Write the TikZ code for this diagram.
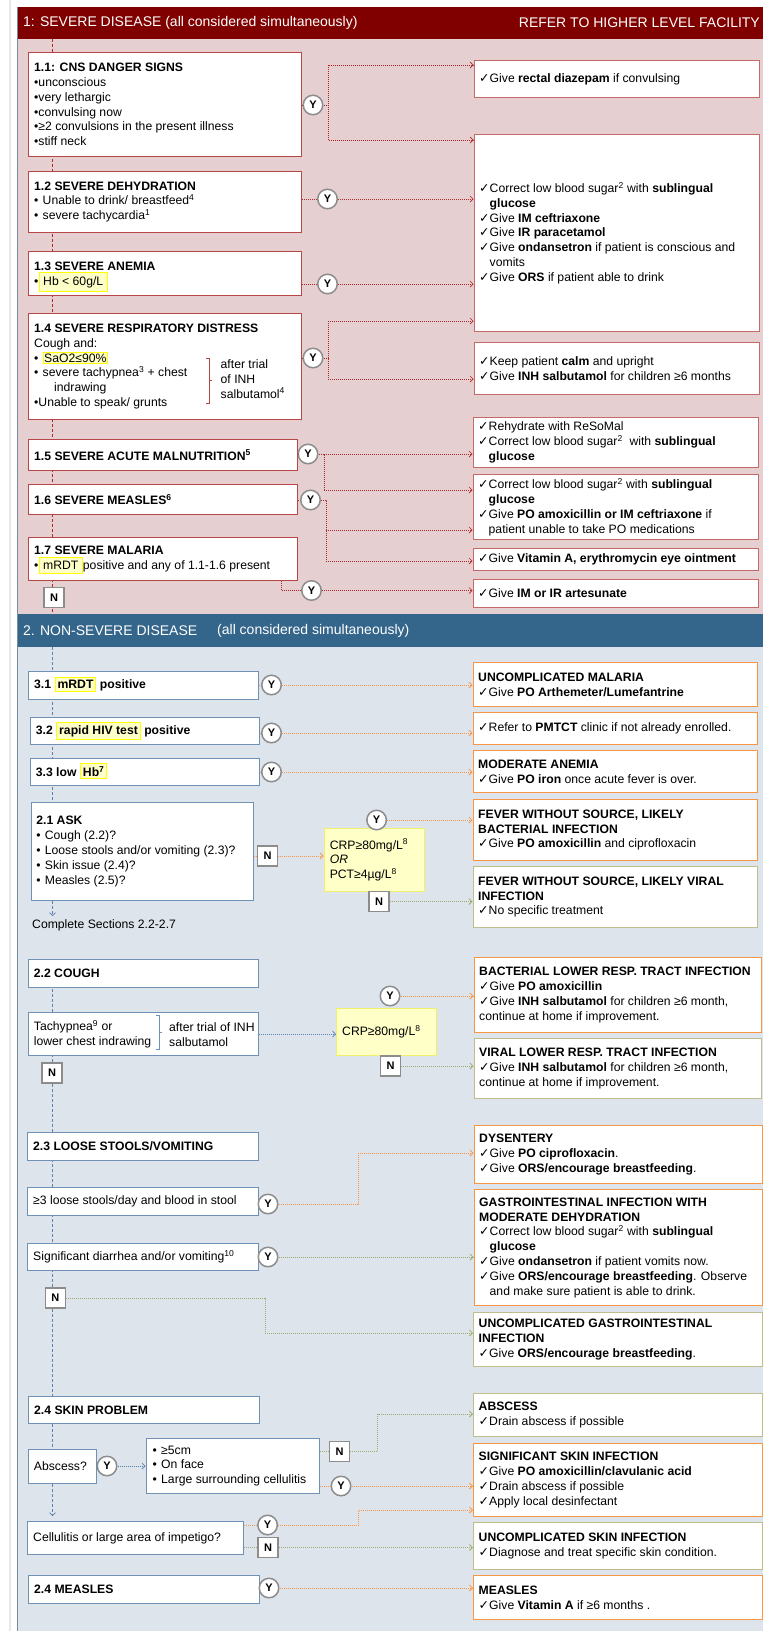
\documentclass[tikz,border=0pt]{standalone}
\usepackage{fontspec}
\setmainfont{Liberation Sans}
\newfontfamily\symfont{DejaVu Sans}
\usetikzlibrary{arrows.meta}

\definecolor{sevhead}{RGB}{128,0,0}
\definecolor{sevbg}{RGB}{230,207,209}
\definecolor{sevline}{RGB}{185,70,70}
\definecolor{sevrline}{RGB}{200,105,105}
\definecolor{sevconn}{RGB}{175,40,40}
\definecolor{nshead}{RGB}{52,101,138}
\definecolor{nsbg}{RGB}{221,228,235}
\definecolor{nsline}{RGB}{110,145,180}
\definecolor{orline}{RGB}{247,150,70}
\definecolor{olline}{RGB}{190,190,140}
\definecolor{olconn}{RGB}{160,170,110}
\definecolor{bconn}{RGB}{90,130,175}
\definecolor{hly}{RGB}{255,255,0}
\definecolor{hlf}{RGB}{255,255,200}
\definecolor{crpf}{RGB}{255,255,200}
\definecolor{crpd}{RGB}{240,240,110}
\definecolor{edge}{RGB}{120,140,160}
\definecolor{ring}{RGB}{140,140,140}

\newcommand\fs{\fontsize{12.2}{14.8}\selectfont}
\newcommand\ck{\makebox[10.5pt][l]{\symfont\fontsize{12.5}{10}\selectfont ✓}}
\newcommand\ind{\hspace*{10.5pt}}
\newcommand\bul{\makebox[8.5pt][l]{•}}
\newcommand\hl[2][2]{\smash{\setlength{\fboxsep}{#1pt}\setlength{\fboxrule}{1pt}\fcolorbox{hly}{hlf}{#2}}}
% box: [pad]{name}{x1}{y1}{x2}{y2}{style}{text}
\newcommand\bx[8][6]{%
  \node[#7, minimum width={#5pt-#3pt}, minimum height={#6pt-#4pt}, anchor=north west, inner sep=0pt] (#2) at (#3,#4) {};
  \node[txt, anchor=west] (#2t) at ([xshift=#1pt]#2.west) {#8};}

\begin{document}
\begin{tikzpicture}[x=1pt,y=-1pt,
  txt/.style={align=left, inner sep=0pt, font=\fs},
  hdr/.style={text=white, inner sep=0pt, font=\fontsize{14}{16}\selectfont},
  sbox/.style={rectangle, draw=sevline, fill=white, line width=1pt},
  srbox/.style={rectangle, draw=sevrline, fill=white, line width=1.2pt},
  nbx/.style={rectangle, draw=nsline, fill=white, line width=1pt},
  orbx/.style={rectangle, draw=orline, fill=white, line width=1.2pt},
  olbx/.style={rectangle, draw=olline, fill=white, line width=1.2pt},
  crpbox/.style={rectangle, draw=crpd, fill=crpf, line width=1pt},
  yc/.style={circle, draw=ring, fill=white, line width=1.5pt, minimum size=19.5pt, inner sep=0pt, font=\bfseries\fontsize{11}{11}\selectfont},
  nbox/.style={rectangle, draw=ring, fill=white, line width=1.5pt, minimum width=20pt, minimum height=20pt, inner sep=0pt, font=\bfseries\fontsize{11}{11}\selectfont},
  tip/.style={-{Straight Barb[length=3pt,width=6pt]}},
  sc/.style={draw=sevconn, line width=0.7pt, dash pattern=on 1pt off 1pt},
  sca/.style={sc, tip},
  oc/.style={draw=orline, line width=0.8pt, dash pattern=on 1pt off 1pt},
  oca/.style={oc, tip},
  gc/.style={draw=olconn, line width=0.8pt, dash pattern=on 1pt off 1pt},
  gca/.style={gc, tip},
  bc/.style={draw=bconn, line width=0.7pt, dash pattern=on 1pt off 1pt},
  bca/.style={bc, tip},
  sv/.style={draw=sevconn, line width=0.7pt, dash pattern=on 3pt off 2pt},
  bv/.style={draw=bconn, line width=0.7pt, dash pattern=on 3pt off 2pt},
  bva/.style={bv, tip}]
\useasboundingbox (0,0) rectangle (763,1631);
\fill[white] (0,0) rectangle (763,1631);
\draw[line width=2pt, color=gray!18] (9.5,0) -- (9.5,1631);
\fill[sevhead] (17,7) rectangle (763,39);
\fill[sevbg] (17,39) rectangle (763,614);
\fill[nshead] (17,614) rectangle (763,647);
\fill[nsbg] (17,647) rectangle (763,1631);
\draw[edge, line width=1pt] (17,7) -- (17,1631);

\node[hdr, anchor=west] (h1) at (23,23) {1: SEVERE DISEASE (all considered simultaneously)};
\node[hdr, anchor=east] (h1r) at (760,23) {REFER TO HIGHER LEVEL FACILITY};
\node[hdr, anchor=west] (h2) at (23,631) {2. NON-SEVERE DISEASE};
\node[hdr, anchor=west] (h2b) at (217,631) {(all considered simultaneously)};

% vertical spine lines
\coordinate (v1top) at (52.5,39); \coordinate (v1bot) at (52.5,614);
\draw[sv] (v1top) -- (v1bot);
\coordinate (v2top) at (52.5,647); \coordinate (v2a) at (52.5,900); \coordinate (v2b) at (52.5,916);
\draw[bv] (v2top) -- (v2a);
\coordinate (v3top) at (52.5,959); \coordinate (v3bot) at (52.5,1500);
\draw[bv] (v3top) -- (v3bot);

% ---------- Section 1 left ----------
\bx{b11}{28}{52}{301}{156}{sbox}{\textbf{1.1: CNS DANGER SIGNS}\\•unconscious\\•very lethargic\\•convulsing now\\•≥2 convulsions in the present illness\\•stiff neck}
\bx{b12}{28}{171}{301}{232}{sbox}{\textbf{1.2 SEVERE DEHYDRATION}\\\bul Unable to drink/ breastfeed\textsuperscript{4}\\\bul severe tachycardia\textsuperscript{1}}
\bx{b13}{28}{251}{301}{295}{sbox}{\textbf{1.3 SEVERE ANEMIA}\\\makebox[4.5pt][l]{•}\hl[3.5]{Hb < 60g/L}}
\bx{b14}{28}{313}{301}{419}{sbox}{\textbf{1.4 SEVERE RESPIRATORY DISTRESS}\\Cough and:\\\bul\hl[0.5]{SaO2≤90\%}\\\bul severe tachypnea\textsuperscript{3} + chest\\\hspace*{20pt}indrawing\\•Unable to speak/ grunts}
\node[txt, anchor=west] (b14s) at (220.5,379) {after trial\\of INH\\salbutamol\textsuperscript{4}};
\draw[sevline, line width=0.8pt] (206,358) -- (209,358) -- (209,403) -- (206,403);
\draw[sevline, line width=0.8pt] (209,380.5) -- (211.5,380.5);
\bx{b15}{28}{439}{297}{470}{sbox}{\textbf{1.5 SEVERE ACUTE MALNUTRITION\textsuperscript{5}}}
\bx{b16}{28}{484}{297}{514}{sbox}{\textbf{1.6 SEVERE MEASLES\textsuperscript{6}}}
\bx{b17}{28}{537}{297}{580}{sbox}{\textbf{1.7 SEVERE MALARIA}\\\makebox[4.5pt][l]{•}\hl[3.5]{mRDT}positive and any of 1.1-1.6 present}
\node[nbox] (n1) at (54,597.5) {N};

% ---------- Section 1 right ----------
\bx[5.5]{r11}{473.5}{60}{759}{97}{srbox}{\ck Give \textbf{rectal diazepam} if convulsing}
\bx[5.5]{r12}{473.5}{134}{759}{331}{srbox}{\ck Correct low blood sugar\textsuperscript{2} with \textbf{sublingual}\\\ind\textbf{glucose}\\\ck Give \textbf{IM ceftriaxone}\\\ck Give \textbf{IR paracetamol}\\\ck Give \textbf{ondansetron} if patient is conscious and\\\ind vomits\\\ck Give \textbf{ORS} if patient able to drink}
\bx[5.5]{r13}{473.5}{342}{759}{394}{srbox}{\ck Keep patient \textbf{calm} and upright\\\ck Give \textbf{INH salbutamol} for children ≥6 months}
\bx[5.5]{r14}{472.5}{417}{757.5}{467}{srbox}{\ck Rehydrate with ReSoMal\\\ck Correct low blood sugar\textsuperscript{2}\ \ with \textbf{sublingual}\\\ind\textbf{glucose}}
\bx[5.5]{r15}{472.5}{474}{757.5}{539}{srbox}{\ck Correct low blood sugar\textsuperscript{2} with \textbf{sublingual}\\\ind\textbf{glucose}\\\ck Give \textbf{PO amoxicillin or IM ceftriaxone} if\\\ind patient unable to take PO medications}
\bx[5.5]{r16}{472.5}{548}{757.5}{570}{srbox}{\ck Give \textbf{Vitamin A, erythromycin eye ointment}}
\bx[5.5]{r17}{472.5}{579}{757.5}{607}{srbox}{\ck Give \textbf{IM or IR artesunate}}

\node[yc] (y11) at (313,105) {Y};
\node[yc] (y12) at (327.5,199) {Y};
\node[yc] (y13) at (327.5,284) {Y};
\node[yc] (y14) at (313,358) {Y};
\node[yc] (y15) at (308,454) {Y};
\node[yc] (y16) at (310.5,500) {Y};
\node[yc] (y17) at (311.5,590.5) {Y};

% Section 1 connectors
\coordinate (k1) at (328.5,105); \coordinate (k1a) at (328.5,65); \coordinate (k1b) at (328.5,140);
\draw[sc] (b11.east |- y11) -- (y11);
\draw[sc] (y11) -- (k1); \draw[sc] (k1a) -- (k1b);
\draw[sca] (k1a) -- (k1a -| r11.west); \draw[sca] (k1b) -- (k1b -| r12.west);
\draw[sc] (b12.east |- y12) -- (y12); \draw[sca] (y12) -- (y12 -| r12.west);
\draw[sc] (b13.east |- y13) -- (y13); \draw[sca] (y13) -- (y13 -| r12.west);
\coordinate (k4) at (328,358); \coordinate (k4a) at (328,321); \coordinate (k4b) at (328,379);
\draw[sc] (b14.east |- y14) -- (y14); \draw[sc] (y14) -- (k4); \draw[sc] (k4a) -- (k4b);
\draw[sca] (k4a) -- (k4a -| r12.west); \draw[sca] (k4b) -- (k4b -| r13.west);
\coordinate (k5a) at (324,454); \coordinate (k5b) at (324,490);
\draw[sc] (b15.east |- y15) -- (y15); \draw[sc] (y15) -- (k5a) -- (k5b);
\draw[sca] (k5a) -- (k5a -| r14.west); \draw[sca] (k5b) -- (k5b -| r15.west);
\coordinate (k6) at (326,500); \coordinate (k6a) at (326,530); \coordinate (k6b) at (326,561);
\draw[sc] (b16.east |- y16) -- (y16); \draw[sc] (y16) -- (k6) -- (k6b);
\draw[sca] (k6a) -- (k6a -| r15.west); \draw[sca] (k6b) -- (k6b -| r16.west);
\coordinate (k17) at (281,590.5);
\draw[sc] (b17.south -| k17) -- (k17) -- (y17); \draw[sca] (y17) -- (y17 -| r17.west);

% ---------- Section 2 left ----------
\bx{c31}{28}{671}{258}{699}{nbx}{\textbf{3.1 \hl{mRDT} positive}}
\bx{c32}{29.7}{717}{259}{744}{nbx}{\textbf{3.2 \hl{rapid HIV test} positive}}
\bx{c33}{29.7}{758}{259}{785}{nbx}{\textbf{3.3 low \hl{Hb\textsuperscript{7}}}}
\bx[5.5]{c21}{30.7}{802}{253}{900}{nbx}{\textbf{2.1 ASK}\\\bul Cough (2.2)?\\\bul Loose stools and/or vomiting (2.3)?\\\bul Skin issue (2.4)?\\\bul Measles (2.5)?}
\draw[bva] (c21.south -| v2a) -- (v2b);
\node[txt, anchor=west] (compl) at (32,925) {Complete Sections 2.2-2.7};
\bx{c22}{27.7}{959}{258}{987}{nbx}{\textbf{2.2 COUGH}}
\bx{ctach}{27.7}{1012}{258}{1055}{nbx}{Tachypnea\textsuperscript{9} or\\lower chest indrawing}
\node[txt, anchor=west] (ctachs) at (169,1035) {after trial of INH\\salbutamol};
\draw[nsline, line width=0.8pt] (156,1015) -- (159,1015) -- (159,1049) -- (156,1049);
\draw[nsline, line width=0.8pt] (159,1032) -- (161.5,1032);
\node[nbox] (n22) at (52,1073) {N};
\bx{c23}{27}{1132}{258}{1160}{nbx}{\textbf{2.3 LOOSE STOOLS/VOMITING}}
\bx{c23a}{27}{1187}{258}{1215}{nbx}{≥3 loose stools/day and blood in stool}
\bx{c23b}{27}{1243}{258}{1270}{nbx}{Significant diarrhea and/or vomiting\textsuperscript{10}}
\node[nbox] (n23) at (55.3,1298) {N};
\bx{c24}{28}{1396}{259}{1423}{nbx}{\textbf{2.4 SKIN PROBLEM}}
\bx{cabs}{27.7}{1449}{96}{1483}{nbx}{Abscess?}
\bx[7]{ccrit}{145.5}{1438}{319}{1493}{nbx}{\bul ≥5cm\\\bul On face\\\bul Large surrounding cellulitis}
\bx{ccell}{27}{1521}{243}{1554}{nbx}{Cellulitis or large area of impetigo?}
\draw[bva, shorten >=5pt] (cabs.south -| v3bot) -- (ccell.north -| v3bot);
\bx{c25}{28}{1575}{259}{1603}{nbx}{\textbf{2.4 MEASLES}}

% ---------- Section 2 right ----------
\bx[5.5]{d31}{472.5}{662}{757}{706}{orbx}{\textbf{UNCOMPLICATED MALARIA}\\\ck Give \textbf{PO Arthemeter/Lumefantrine}}
\bx[5.5]{d32}{472.5}{712}{757}{744}{orbx}{\ck Refer to \textbf{PMTCT} clinic if not already enrolled.}
\bx[5.5]{d33}{472.5}{750}{757}{792}{orbx}{\textbf{MODERATE ANEMIA}\\\ck Give \textbf{PO iron} once acute fever is over.}
\bx[5.5]{d21a}{472.5}{799}{757}{860}{orbx}{\textbf{FEVER WITHOUT SOURCE, LIKELY}\\\textbf{BACTERIAL INFECTION}\\\ck Give \textbf{PO amoxicillin} and ciprofloxacin}
\bx[5.5]{d21b}{472.5}{866}{757}{927}{olbx}{\textbf{FEVER WITHOUT SOURCE, LIKELY VIRAL}\\\textbf{INFECTION}\\\ck No specific treatment}
\bx[5.5]{d22a}{473.5}{957}{760.5}{1032}{orbx}{\textbf{BACTERIAL LOWER RESP. TRACT INFECTION}\\\ck Give \textbf{PO amoxicillin}\\\ck Give \textbf{INH salbutamol} for children ≥6 month,\\continue at home if improvement.}
\bx[5.5]{d22b}{473.5}{1038}{760.5}{1098}{olbx}{\textbf{VIRAL LOWER RESP. TRACT INFECTION}\\\ck Give \textbf{INH salbutamol} for children ≥6 month,\\continue at home if improvement.}
\bx[5.5]{d23a}{473.5}{1125}{761.5}{1183}{orbx}{\textbf{DYSENTERY}\\\ck Give \textbf{PO ciprofloxacin}.\\\ck Give \textbf{ORS/encourage breastfeeding}.}
\bx[5.5]{d23b}{473.5}{1189}{761.5}{1305}{orbx}{\textbf{GASTROINTESTINAL INFECTION WITH}\\\textbf{MODERATE DEHYDRATION}\\\ck Correct low blood sugar\textsuperscript{2} with \textbf{sublingual}\\\ind\textbf{glucose}\\\ck Give \textbf{ondansetron} if patient vomits now.\\\ck Give \textbf{ORS/encourage breastfeeding}. Observe\\\ind and make sure patient is able to drink.}
\bx[5.5]{d23c}{473}{1312}{761.5}{1366}{olbx}{\textbf{UNCOMPLICATED GASTROINTESTINAL}\\\textbf{INFECTION}\\\ck Give \textbf{ORS/encourage breastfeeding}.}
\bx[5.5]{d24a}{473}{1393}{761.5}{1436}{olbx}{\textbf{ABSCESS}\\\ck Drain abscess if possible}
\bx[5.5]{d24b}{473}{1443}{761.5}{1516}{orbx}{\textbf{SIGNIFICANT SKIN INFECTION}\\\ck Give \textbf{PO amoxicillin/clavulanic acid}\\\ck Drain abscess if possible\\\ck Apply local desinfectant}
\bx[5.5]{d24c}{473}{1522}{761.5}{1569}{olbx}{\textbf{UNCOMPLICATED SKIN INFECTION}\\\ck Diagnose and treat specific skin condition.}
\bx[5.5]{d25}{473}{1575}{761.5}{1619}{orbx}{\textbf{MEASLES}\\\ck Give \textbf{Vitamin A} if ≥6 months .}

% CRP boxes
\bx{crp1}{323.6}{828}{424}{891}{crpbox}{CRP≥80mg/L\textsuperscript{8}\\\textit{OR}\\PCT≥4µg/L\textsuperscript{8}}
\bx{crp2}{336}{1008}{436}{1055}{crpbox}{CRP≥80mg/L\textsuperscript{8}}

% Y / N markers section 2
\node[yc] (y31) at (271.5,685) {Y};
\node[yc] (y32) at (271.5,733) {Y};
\node[yc] (y33) at (271.5,772) {Y};
\node[nbox] (n21) at (267.5,856) {N};
\node[yc] (y21) at (376.6,820) {Y};
\node[nbox] (n21b) at (379,901.5) {N};
\node[yc] (y22) at (390,996) {Y};
\node[nbox] (n22b) at (390.5,1066) {N};
\node[yc] (y23a) at (268,1204) {Y};
\node[yc] (y23b) at (268,1257) {Y};
\node[yc] (yabs) at (107,1466) {Y};
\node[nbox] (n24) at (339.7,1451.5) {N};
\node[yc] (ycrit) at (341,1486) {Y};
\node[yc] (ycell) at (267.6,1525) {Y};
\node[nbox] (ncell) at (268,1547.5) {N};
\node[yc] (yme) at (269,1588) {Y};

% Section 2 connectors
\draw[oc] (c31.east |- y31) -- (y31); \draw[oca] (y31) -- (y31 -| d31.west);
\draw[oc] (c32.east |- y32) -- (y32); \draw[oca] (y32) -- (y32 -| d32.west);
\draw[oc] (c33.east |- y33) -- (y33); \draw[oca] (y33) -- (y33 -| d33.west);
\draw[oc] (c21.east |- n21) -- (n21); \draw[oca] (n21) -- (n21 -| crp1.west);
\draw[oca] (y21) -- (y21 -| d21a.west);
\draw[gca] (n21b) -- (n21b -| d21b.west);
\draw[bca] (ctach.east) -- (ctach.east -| crp2.west);
\draw[oca] (y22) -- (y22 -| d22a.west);
\draw[gca] (n22b) -- (n22b -| d22b.west);
\coordinate (k23) at (358.6,1153);
\draw[oc] (c23a.east |- y23a) -- (y23a);
\draw[oca] (y23a) -- (y23a -| k23) -- (k23) -- (k23 -| d23a.west);
\draw[gc] (c23b.east |- y23b) -- (y23b); \draw[gca] (y23b) -- (y23b -| d23b.west);
\coordinate (k23n) at (265,1333);
\draw[gca] (n23) -- (n23 -| k23n) -- (k23n) -- (k23n -| d23c.west);
\draw[bc] (cabs.east |- yabs) -- (yabs); \draw[bca] (yabs) -- (yabs -| ccrit.west);
\coordinate (k24) at (377.6,1414);
\draw[gc] (ccrit.east |- n24) -- (n24);
\draw[gca] (n24) -- (n24 -| k24) -- (k24) -- (k24 -| d24a.west);
\draw[oc] (ccrit.east |- ycrit) -- (ycrit); \draw[oca] (ycrit) -- (ycrit -| d24b.west);
\coordinate (k24c) at (358.6,1510);
\draw[oc] (ccell.east |- ycell) -- (ycell);
\draw[oca] (ycell) -- (ycell -| k24c) -- (k24c) -- (k24c -| d24b.west);
\draw[gc] (ccell.east |- ncell) -- (ncell); \draw[gca] (ncell) -- (ncell -| d24c.west);
\draw[oc] (c25.east |- yme) -- (yme); \draw[oca] (yme) -- (yme -| d25.west);
\end{tikzpicture}
\end{document}
